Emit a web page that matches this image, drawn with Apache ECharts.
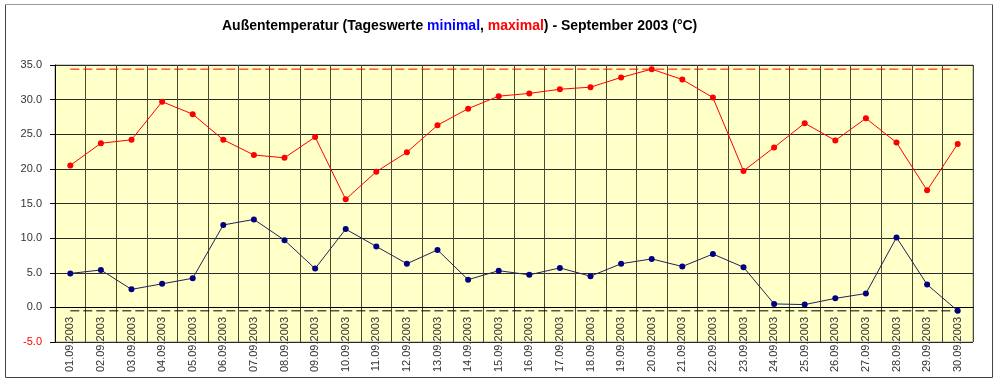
<!DOCTYPE html>
<html>
<head>
<meta charset="utf-8">
<script src="https://cdn.jsdelivr.net/npm/echarts@6/dist/echarts.min.js"></script>
<style>
  html, body { margin: 0; padding: 0; background: #ffffff; }
  #chart { width: 1000px; height: 382px; }
</style>
</head>
<body>
<div id="chart"></div>
<script>
const categories = [
  '01.09.2003','02.09.2003','03.09.2003','04.09.2003','05.09.2003','06.09.2003',
  '07.09.2003','08.09.2003','09.09.2003','10.09.2003','11.09.2003','12.09.2003',
  '13.09.2003','14.09.2003','15.09.2003','16.09.2003','17.09.2003','18.09.2003',
  '19.09.2003','20.09.2003','21.09.2003','22.09.2003','23.09.2003','24.09.2003',
  '25.09.2003','26.09.2003','27.09.2003','28.09.2003','29.09.2003','30.09.2003'
];
const maxTemps = [20.5, 23.7, 24.2, 29.7, 27.9, 24.2, 22.0, 21.6, 24.6, 15.6,
                  19.6, 22.4, 26.3, 28.7, 30.5, 30.9, 31.5, 31.8, 33.2, 34.4,
                  32.9, 30.3, 19.7, 23.1, 26.6, 24.1, 27.3, 23.8, 16.9, 23.6];
const minTemps = [4.9, 5.4, 2.6, 3.4, 4.2, 11.9, 12.7, 9.7, 5.6, 11.3,
                  8.8, 6.3, 8.3, 4.0, 5.3, 4.7, 5.7, 4.5, 6.3, 7.0,
                  5.9, 7.7, 5.8, 0.5, 0.4, 1.3, 2.0, 10.1, 3.3, -0.5];
const yTicks = { min: -5, max: 35, step: 5 };

const FONT = '"Liberation Sans", Arial, sans-serif';
const hiVal = Math.max(...maxTemps);
const loVal = Math.min(...minTemps);
const hiRef = categories.map(() => hiVal);
const loRef = categories.map(() => loVal);

const chart = echarts.init(document.getElementById('chart'), null, { renderer: 'canvas' });
chart.setOption({
  backgroundColor: '#ffffff',
  animation: false,
  textStyle: { fontFamily: FONT },
  title: {
    left: 217,
    top: 14,
    text: '{b|Außentemperatur (Tageswerte }{blue|minimal}{b|, }{red|maximal}{b|) - September 2003 (°C)}',
    textStyle: {
      rich: {
        b: { fontFamily: FONT, fontSize: 14, fontWeight: 'bold', color: '#000000' },
        blue: { fontFamily: FONT, fontSize: 14, fontWeight: 'bold', color: '#0000ff' },
        red: { fontFamily: FONT, fontSize: 14, fontWeight: 'bold', color: '#ff0000' }
      }
    }
  },
  graphic: [
    { type: 'rect', silent: true, z: 0,
      shape: { x: 5.5, y: 4.5, width: 987, height: 373 },
      style: { fill: 'none', stroke: '#444444', lineWidth: 1 } },
    { type: 'line', silent: true, z: 1,
      shape: { x1: 5, y1: 4.5, x2: 993, y2: 4.5 },
      style: { stroke: '#9a9a9a', lineWidth: 1 } }
  ],
  grid: {
    left: 55, right: 27, top: 65, bottom: 40,
    containLabel: false,
    outerBoundsMode: 'none',
    show: true,
    backgroundColor: '#ffffc8',
    borderColor: '#9a9a9a',
    borderWidth: 1
  },
  xAxis: [
    {
      type: 'category',
      data: categories,
      boundaryGap: true,
      axisLine: { show: true, onZero: true, lineStyle: { color: '#000000', width: 1 } },
      axisTick: { show: false },
      axisLabel: { show: false },
      splitLine: { show: true, interval: 0, lineStyle: { color: '#4a4a30', width: 1 } }
    },
    {
      type: 'category',
      data: categories,
      boundaryGap: true,
      position: 'bottom',
      offset: -35,
      axisLine: { show: false, onZero: false },
      axisTick: { show: false },
      splitLine: { show: false },
      axisLabel: {
        interval: 0, rotate: 90, margin: 10,
        fontFamily: FONT, fontSize: 11, color: '#333333'
      }
    }
  ],
  yAxis: {
    type: 'value',
    min: yTicks.min, max: yTicks.max, interval: yTicks.step,
    axisLine: { show: true, lineStyle: { color: '#000000', width: 1 } },
    axisTick: { show: true, inside: false, length: 5, lineStyle: { color: '#000000' } },
    axisLabel: {
      margin: 13, fontFamily: FONT, fontSize: 11,
      formatter: v => (v < 0 ? '{neg|' + v.toFixed(1) + '}' : v.toFixed(1)),
      color: '#333333',
      rich: { neg: { color: '#ff0000', fontFamily: FONT, fontSize: 11 } }
    },
    splitLine: { show: true, lineStyle: { color: '#2a2a2a', width: 1 } }
  },
  series: [
    {
      name: 'maxRef', type: 'line', data: hiRef, silent: true,
      symbol: 'none', z: 4,
      lineStyle: { color: '#ff0000', type: [9, 4], width: 1 }
    },
    {
      name: 'minRef', type: 'line', data: loRef, silent: true,
      symbol: 'none', z: 4,
      lineStyle: { color: '#000000', type: [9, 4], width: 1 }
    },
    {
      name: 'maximal', type: 'line', data: maxTemps,
      symbol: 'circle', symbolSize: 6,
      itemStyle: { color: '#ff0000' },
      lineStyle: { color: '#ff0000', width: 1 },
      z: 5
    },
    {
      name: 'minimal', type: 'line', data: minTemps,
      symbol: 'circle', symbolSize: 6,
      itemStyle: { color: '#000080' },
      lineStyle: { color: '#22225a', width: 1 },
      z: 5
    }
  ]
});
</script>
</body>
</html>
